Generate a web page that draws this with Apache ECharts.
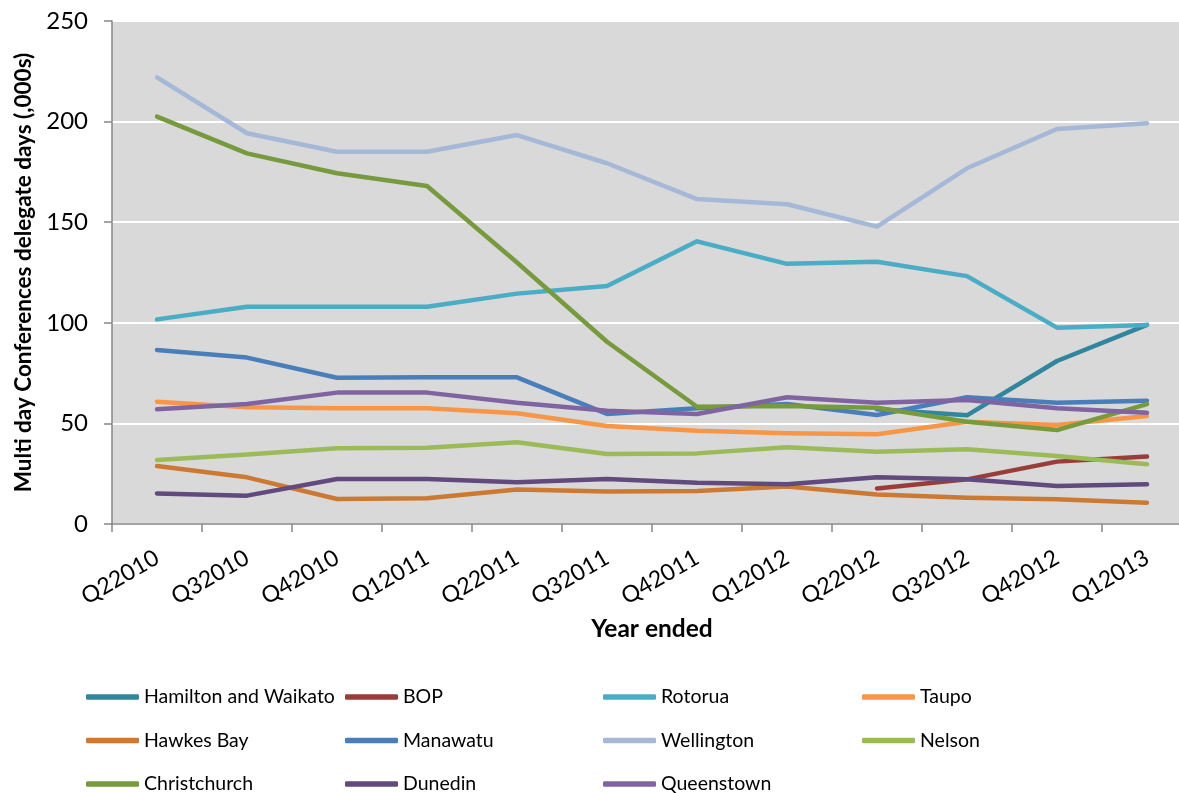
<!DOCTYPE html>
<html>
<head>
<meta charset="utf-8">
<script src="https://cdn.jsdelivr.net/npm/echarts@6/dist/echarts.min.js"></script>
<style>
html,body{margin:0;padding:0;background:#fff;overflow:hidden;}
#chart{width:1192px;height:793px;}
</style>
</head>
<body>
<div id="chart"></div>
<script>
var categories = ['Q22010','Q32010','Q42010','Q12011','Q22011','Q32011','Q42011','Q12012','Q22012','Q32012','Q42012','Q12013'];
var yTicks = [0, 50, 100, 150, 200, 250];

var hamilton     = [null, null, null, null, null, null, null, null, 57, 54, 81, 99];
var bop          = [null, null, null, null, null, null, null, null, 17.7, 22.2, 31, 33.5];
var rotorua      = [101.7, 108, 108, 108, 114.5, 118.3, 140.5, 129.3, 130.3, 123.2, 97.6, 98.9];
var taupo        = [60.8, 58, 57.5, 57.5, 55, 48.7, 46.4, 45.1, 44.6, 50.8, 49.2, 53.7];
var hawkesBay    = [28.8, 23.2, 12.4, 12.8, 17.2, 16.1, 16.4, 18.6, 14.7, 13.1, 12.3, 10.6];
var manawatu     = [86.5, 82.7, 72.7, 72.9, 72.9, 54.7, 57.5, 59.6, 54.2, 63, 60.3, 61.3];
var wellington   = [222, 194.2, 185, 185, 193.3, 179.3, 161.5, 158.9, 147.8, 176.8, 196.3, 199.2];
var nelson       = [31.8, 34.6, 37.6, 37.9, 40.6, 34.8, 35.1, 38.1, 35.9, 37.1, 33.8, 29.7];
var christchurch = [202.5, 184.2, 174.3, 168, 130, 90.6, 58.3, 58.6, 57.8, 50.8, 46.7, 59.6];
var dunedin      = [15.2, 14.1, 22.4, 22.4, 20.7, 22.4, 20.5, 19.7, 23.2, 22.2, 18.9, 19.7];
var queenstown   = [57, 59.6, 65.3, 65.3, 60.3, 56.3, 54.7, 63, 60.3, 61.6, 57.5, 55.3];

var seriesDefs = [
  ['Hamilton and Waikato', hamilton, '#31859C'],
  ['BOP', bop, '#993D3A'],
  ['Rotorua', rotorua, '#4BACC6'],
  ['Taupo', taupo, '#F79646'],
  ['Hawkes Bay', hawkesBay, '#CC7A33'],
  ['Manawatu', manawatu, '#4A7EBB'],
  ['Wellington', wellington, '#A5B8D7'],
  ['Nelson', nelson, '#9BBB59'],
  ['Christchurch', christchurch, '#789A3E'],
  ['Dunedin', dunedin, '#624A7E'],
  ['Queenstown', queenstown, '#8064A2']
];

var FONT = 'Lato, "Open Sans", sans-serif';

var series = seriesDefs.map(function (d) {
  return {
    name: d[0], type: 'line', data: d[1], color: d[2],
    showSymbol: false, symbol: 'none', connectNulls: false,
    lineStyle: { width: 4.5, color: d[2], cap: 'round', join: 'round' },
    emphasis: { disabled: true }
  };
});

var legendCols = [
  ['Hamilton and Waikato', 'Hawkes Bay', 'Christchurch'],
  ['BOP', 'Manawatu', 'Dunedin'],
  ['Rotorua', 'Wellington', 'Queenstown'],
  ['Taupo', 'Nelson']
];
var legendLefts = [86, 345, 603, 862];
var legends = legendCols.map(function (col, i) {
  return {
    orient: 'vertical', left: legendLefts[i], top: 686, height: 140, padding: 0,
    data: col, icon: 'roundRect', itemWidth: 53, itemHeight: 5.5, itemGap: 21.5,
    selectedMode: false,
    textStyle: { fontFamily: FONT, fontSize: 19.5, color: '#000', lineHeight: 22 }
  };
});

var chart = echarts.init(document.getElementById('chart'), null, { renderer: 'canvas' });
chart.setOption({
  animation: false,
  backgroundColor: '#ffffff',
  grid: { left: 112, right: 0, top: 21, bottom: 269, show: true, backgroundColor: '#D9D9D9', borderWidth: 0 },
  legend: legends,
  xAxis: {
    type: 'category', data: categories, boundaryGap: true,
    name: 'Year ended', nameLocation: 'middle', nameGap: 93,
    nameTextStyle: { fontFamily: FONT, fontSize: 24.5, fontWeight: 'bold', color: '#000' },
    axisLine: { show: true, lineStyle: { color: '#868686', width: 1.5 } },
    axisTick: { show: true, inside: false, length: 8, lineStyle: { color: '#868686', width: 1.5 } },
    axisLabel: { rotate: 30, margin: 32, fontFamily: FONT, fontSize: 23, color: '#000', interval: 0 },
    splitLine: { show: false }
  },
  yAxis: {
    type: 'value', min: 0, max: 250, interval: 50,
    name: 'Multi day Conferences delegate days (,000s)', nameLocation: 'middle', nameGap: 77,
    nameTextStyle: { fontFamily: FONT, fontSize: 22.5, fontWeight: 'bold', color: '#000' },
    axisLine: { show: true, lineStyle: { color: '#868686', width: 1.5 } },
    axisTick: { show: true, inside: false, length: 8, lineStyle: { color: '#868686', width: 1.5 } },
    axisLabel: { margin: 24, fontFamily: FONT, fontSize: 24, color: '#000',
      formatter: function (v) { return yTicks.indexOf(v) >= 0 ? String(v) : ''; } },
    splitLine: { show: true, lineStyle: { color: '#FFFFFF', width: 2 } }
  },
  series: series
});
</script>
</body>
</html>
